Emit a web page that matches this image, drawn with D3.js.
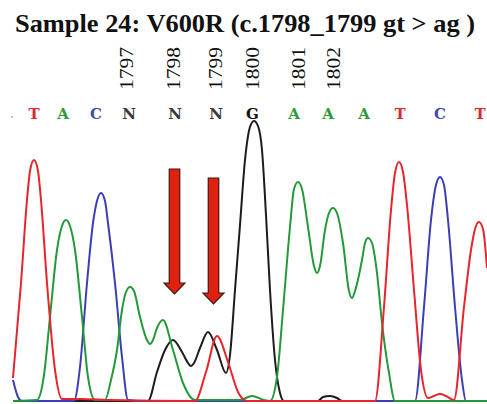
<!DOCTYPE html>
<html>
<head>
<meta charset="utf-8">
<script src="https://cdn.jsdelivr.net/npm/d3@7"></script>
<style>
  body { margin: 0; background: #fff; }
  svg { display: block; }
</style>
</head>
<body>
<div id="chart"></div>
<script>
// Sanger trace, sample 24 - [scan, signal]
var redTrace = [[0,23],[8,118],[14,201],[17,230],[21,241],[25,230],[28,201],[34,118],[42,31],[49,2],[67,2],[97,1],
    [182,0],[193,29],[204,65],[215,39],[225,9],[234,0],
    [362,0],[371,94],[378,191],[382,228],[386,239],[390,229],[394,196],[401,111],[408,31],[415,3],[421,5],[427,7],[433,5],[441,1],
    [451,94],[458,151],[462,172],[466,179],[470,172],[474,133]];

var greenTrace = [[0,0],[24,1],[31,26],[37,84],[44,151],[49,175],[53,181],[57,175],[62,151],[69,84],[75,24],[82,1],
    [92,1],[98,21],[104,51],[109,91],[113,109],[117,114],[121,110],[127,84],[134,61],[137,57],[140,61],[144,73],
    [150,81],[160,51],[170,18],[182,1],
    [227,1],[239,5],[251,1],[257,0],
    [264,24],[270,91],[277,174],[281,212],[285,219],[289,212],[295,174],[301,135],[304,128],[307,135],[312,171],
    [316,188],[320,193],[324,188],[330,158],[336,110],[339,103],[342,110],
    [349,141],[352,158],[355,163],[359,158],[364,128],[369,78],[376,28],[382,0],[474,0]];

var blueTrace = [[0,21],[5,4],[9,0],[61,0],[67,34],[74,118],[80,178],[84,200],[88,208],[92,200],[95,178],[102,118],[109,44],[115,1],
    [127,0],[402,0],[411,94],[418,181],[423,216],[427,224],[431,216],[435,181],[442,94],[449,21],[453,0],[474,0]];

var blackTrace = [[0,0],[135,0],[144,29],[152,51],[160,61],[169,49],[175,38],[178,35],[181,38],[187,53],[195,69],[204,51],[213,28],
    [217,46],[222,111],[227,176],[232,241],[237,274],[241,280],[245,275],[249,251],[253,186],[257,111],[262,41],
    [267,8],[271,0],[305,0],[310,4],[317,5],[324,3],[329,0],[474,0]];

// base calls and their scan positions
var bases = ["T", "A", "C", "N", "N", "N", "G", "A", "A", "A", "T", "C", "T"];
var basePos = [21, 50, 83, 116, 162, 203, 239.5, 281, 315, 351, 387, 427, 467];

// nucleotide numbering above the calls
var numLabels = ["1797", "1798", "1799", "1800", "1801", "1802"];
var numPos = [113.5, 160, 202, 239.5, 285, 320];

// arrows marking the mutated positions [scan, top signal, tip signal]
var arrows = [[161.5, 232, 107], [200.5, 223, 97]];

var svgWidth = 487;
var svgHeight = 404;

var svg = d3.select("#chart")
    .append("svg")
    .attr("width", svgWidth)
    .attr("height", svgHeight);

svg.append("rect")
    .attr("width", svgWidth)
    .attr("height", svgHeight)
    .attr("fill", "#fff");

var xScale = d3.scaleLinear().domain([0, 474]).range([13, 487]);
var yScale = d3.scaleLinear().domain([0, 300]).range([401, 101]);

var baseColor = { T: "#e0242b", A: "#2f9a3a", C: "#3c4bb0", N: "#3a3a3a", G: "#111" };

// title
svg.append("text")
    .attr("x", 15)
    .attr("y", 32)
    .attr("textLength", 460)
    .attr("lengthAdjust", "spacingAndGlyphs")
    .style("font-family", "'Liberation Serif', 'Times New Roman', serif")
    .style("font-weight", "bold")
    .style("font-size", "26px")
    .attr("fill", "#111")
    .text("Sample 24: V600R (c.1798_1799 gt > ag )");

// position numbers, rotated
svg.selectAll(".numLabel")
    .data(numLabels)
    .enter()
    .append("text")
    .attr("class", "numLabel")
    .attr("transform", (d, i) => `translate(${xScale(numPos[i])}, 90) rotate(-90)`)
    .attr("dy", "0.36em")
    .attr("textLength", 43)
    .attr("lengthAdjust", "spacingAndGlyphs")
    .style("font-family", "'Liberation Serif', 'Times New Roman', serif")
    .style("font-size", "19px")
    .attr("fill", "#111")
    .text(d => d);

// base calls
svg.selectAll(".baseCall")
    .data(bases)
    .enter()
    .append("text")
    .attr("class", "baseCall")
    .attr("x", (d, i) => xScale(basePos[i]))
    .attr("y", 119)
    .attr("text-anchor", "middle")
    .style("font-family", "'DejaVu Serif', serif")
    .style("font-weight", "bold")
    .style("font-size", "15px")
    .attr("fill", d => baseColor[d])
    .text(d => d);

svg.append("circle")
    .attr("cx", 12)
    .attr("cy", 117)
    .attr("r", 1)
    .attr("fill", "#aaa");

// traces
var line = d3.line()
    .x(d => xScale(d[0]))
    .y(d => yScale(d[1]))
    .curve(d3.curveMonotoneX);

var traces = [
    { data: blackTrace, color: "#1c1c1c" },
    { data: blueTrace, color: "#3b3fb4" },
    { data: greenTrace, color: "#23993a" },
    { data: redTrace, color: "#e8242c" }
];

svg.selectAll(".trace")
    .data(traces)
    .enter()
    .append("path")
    .attr("class", "trace")
    .attr("d", d => line(d.data))
    .attr("fill", "none")
    .attr("stroke", d => d.color)
    .attr("stroke-width", 2)
    .attr("stroke-linejoin", "round");

// red arrows
var shaftW = 10.5, headW = 21, headH = 11;
svg.selectAll(".arrow")
    .data(arrows)
    .enter()
    .append("path")
    .attr("class", "arrow")
    .attr("d", function(d) {
        var cx = xScale(d[0]);
        var top = yScale(d[1]);
        var tip = yScale(d[2]);
        var hy = tip - headH;
        return `M${cx - shaftW / 2},${top} L${cx + shaftW / 2},${top} L${cx + shaftW / 2},${hy}` +
            ` L${cx + headW / 2},${hy} L${cx},${tip} L${cx - headW / 2},${hy} L${cx - shaftW / 2},${hy} Z`;
    })
    .attr("fill", "#e1200f")
    .attr("stroke", "#3b1a12")
    .attr("stroke-width", 1.2)
    .attr("stroke-linejoin", "miter");
</script>
</body>
</html>
